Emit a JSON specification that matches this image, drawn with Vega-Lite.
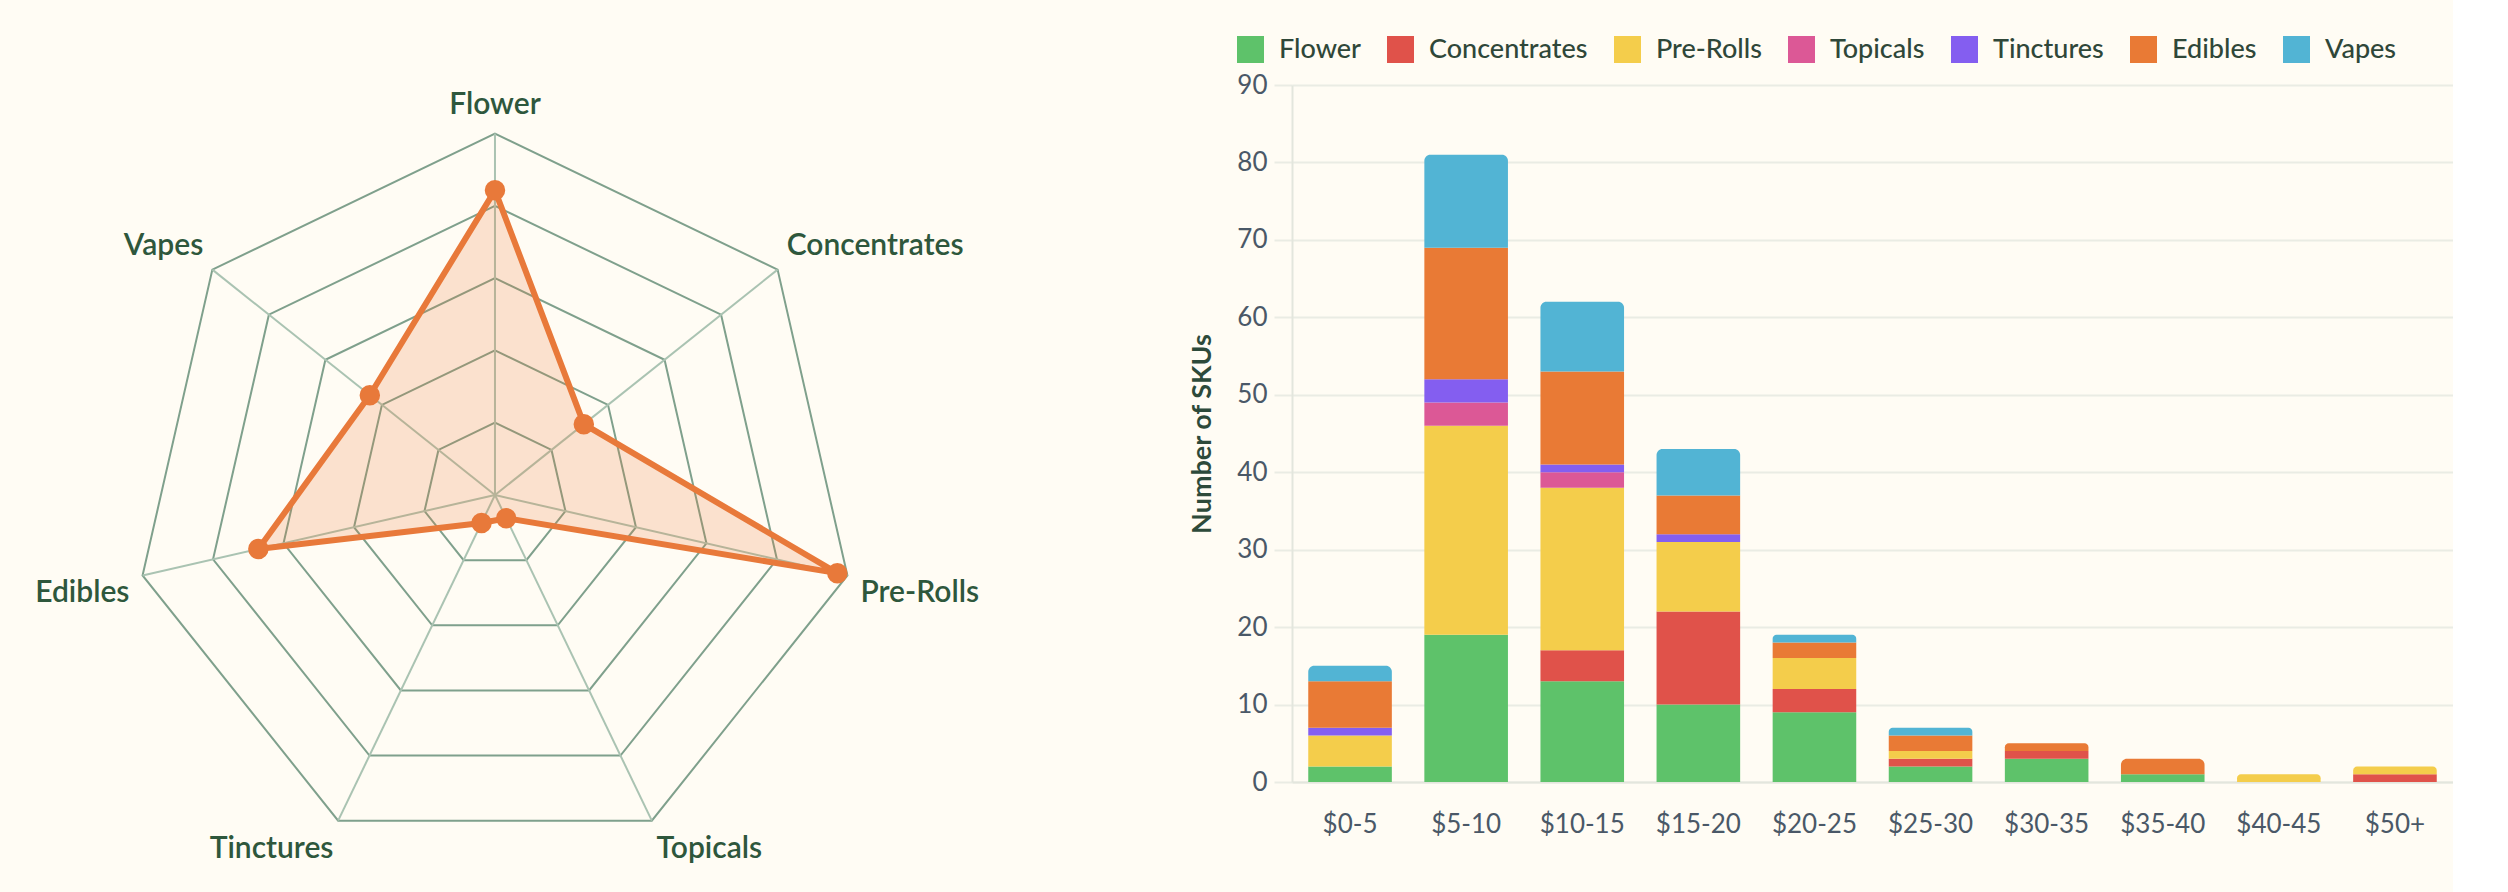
{
  "$schema": "https://vega.github.io/schema/vega-lite/v6.json",
  "background": "#fffcf4",
  "padding": 0,
  "spacing": 126,
  "config": {"view": {"stroke": null}, "font": "Lato"},
  "resolve": {"scale": {"color": "independent", "x": "independent", "y": "independent"}, "legend": {"color": "independent"}},
  "datasets": {
    "radar": [
      {"category": "Flower", "count": 59},
      {"category": "Concentrates", "count": 22},
      {"category": "Pre-Rolls", "count": 68},
      {"category": "Topicals", "count": 5},
      {"category": "Tinctures", "count": 6},
      {"category": "Edibles", "count": 47},
      {"category": "Vapes", "count": 31}
    ],
    "rings": [
      {"level": 14, "spoke": [0, 1, 2, 3, 4, 5, 6]},
      {"level": 28, "spoke": [0, 1, 2, 3, 4, 5, 6]},
      {"level": 42, "spoke": [0, 1, 2, 3, 4, 5, 6]},
      {"level": 56, "spoke": [0, 1, 2, 3, 4, 5, 6]},
      {"level": 70, "spoke": [0, 1, 2, 3, 4, 5, 6]}
    ],
    "skus": [
      {"bin": "$0-5", "category": "Flower", "count": 2},
      {"bin": "$0-5", "category": "Pre-Rolls", "count": 4},
      {"bin": "$0-5", "category": "Tinctures", "count": 1},
      {"bin": "$0-5", "category": "Edibles", "count": 6},
      {"bin": "$0-5", "category": "Vapes", "count": 2},
      {"bin": "$5-10", "category": "Flower", "count": 19},
      {"bin": "$5-10", "category": "Pre-Rolls", "count": 27},
      {"bin": "$5-10", "category": "Topicals", "count": 3},
      {"bin": "$5-10", "category": "Tinctures", "count": 3},
      {"bin": "$5-10", "category": "Edibles", "count": 17},
      {"bin": "$5-10", "category": "Vapes", "count": 12},
      {"bin": "$10-15", "category": "Flower", "count": 13},
      {"bin": "$10-15", "category": "Concentrates", "count": 4},
      {"bin": "$10-15", "category": "Pre-Rolls", "count": 21},
      {"bin": "$10-15", "category": "Topicals", "count": 2},
      {"bin": "$10-15", "category": "Tinctures", "count": 1},
      {"bin": "$10-15", "category": "Edibles", "count": 12},
      {"bin": "$10-15", "category": "Vapes", "count": 9},
      {"bin": "$15-20", "category": "Flower", "count": 10},
      {"bin": "$15-20", "category": "Concentrates", "count": 12},
      {"bin": "$15-20", "category": "Pre-Rolls", "count": 9},
      {"bin": "$15-20", "category": "Tinctures", "count": 1},
      {"bin": "$15-20", "category": "Edibles", "count": 5},
      {"bin": "$15-20", "category": "Vapes", "count": 6},
      {"bin": "$20-25", "category": "Flower", "count": 9},
      {"bin": "$20-25", "category": "Concentrates", "count": 3},
      {"bin": "$20-25", "category": "Pre-Rolls", "count": 4},
      {"bin": "$20-25", "category": "Edibles", "count": 2},
      {"bin": "$20-25", "category": "Vapes", "count": 1},
      {"bin": "$25-30", "category": "Flower", "count": 2},
      {"bin": "$25-30", "category": "Concentrates", "count": 1},
      {"bin": "$25-30", "category": "Pre-Rolls", "count": 1},
      {"bin": "$25-30", "category": "Edibles", "count": 2},
      {"bin": "$25-30", "category": "Vapes", "count": 1},
      {"bin": "$30-35", "category": "Flower", "count": 3},
      {"bin": "$30-35", "category": "Concentrates", "count": 1},
      {"bin": "$30-35", "category": "Edibles", "count": 1},
      {"bin": "$35-40", "category": "Flower", "count": 1},
      {"bin": "$35-40", "category": "Edibles", "count": 2},
      {"bin": "$40-45", "category": "Pre-Rolls", "count": 1},
      {"bin": "$50+", "category": "Concentrates", "count": 1},
      {"bin": "$50+", "category": "Pre-Rolls", "count": 1}
    ]
  },
  "hconcat": [
    {
      "width": 1062,
      "height": 807,
      "layer": [
        {
          "data": {"name": "rings"},
          "transform": [
            {"flatten": ["spoke"]},
            {"calculate": "datum.level * sin(datum.spoke * 2 * PI / 7)", "as": "gx"},
            {"calculate": "datum.level * cos(datum.spoke * 2 * PI / 7)", "as": "gy"}
          ],
          "layer": [
            {
              "mark": {"type": "line", "interpolate": "linear-closed", "stroke": "#7fa08c", "strokeWidth": 2},
              "encoding": {
                "x": {"field": "gx", "type": "quantitative", "scale": {"domain": [-95.85, 109.8], "nice": false, "zero": false}, "axis": null},
                "y": {"field": "gy", "type": "quantitative", "scale": {"domain": [-76.88, 79.4], "nice": false, "zero": false}, "axis": null},
                "detail": {"field": "level", "type": "nominal"},
                "order": {"field": "spoke", "type": "quantitative"}
              }
            },
            {
              "transform": [{"filter": "datum.level == 70"}],
              "mark": {"type": "rule", "stroke": "#aac3b2", "strokeWidth": 2},
              "encoding": {
                "x": {"field": "gx", "type": "quantitative", "scale": {"domain": [-95.85, 109.8], "nice": false, "zero": false}, "axis": null},
                "y": {"field": "gy", "type": "quantitative", "scale": {"domain": [-76.88, 79.4], "nice": false, "zero": false}, "axis": null},
                "x2": {"datum": 0},
                "y2": {"datum": 0}
              }
            }
          ]
        },
        {
          "data": {"name": "radar"},
          "transform": [
            {"window": [{"op": "row_number", "as": "idx"}]},
            {"calculate": "(datum.idx - 1) * 2 * PI / 7", "as": "angle"},
            {"calculate": "datum.count * sin(datum.angle)", "as": "px"},
            {"calculate": "datum.count * cos(datum.angle)", "as": "py"},
            {"calculate": "73 * sin(datum.angle)", "as": "lx"},
            {"calculate": "73 * cos(datum.angle)", "as": "ly"}
          ],
          "layer": [
            {
              "mark": {"type": "line", "interpolate": "linear-closed", "fill": "#e97a35", "fillOpacity": 0.2, "stroke": "#e8793a", "strokeWidth": 6, "strokeJoin": "miter"},
              "encoding": {
                "x": {"field": "px", "type": "quantitative", "scale": {"domain": [-95.85, 109.8], "nice": false, "zero": false}, "axis": null},
                "y": {"field": "py", "type": "quantitative", "scale": {"domain": [-76.88, 79.4], "nice": false, "zero": false}, "axis": null},
                "order": {"field": "idx", "type": "quantitative"}
              }
            },
            {
              "mark": {"type": "circle", "size": 420, "color": "#e8793a", "opacity": 1},
              "encoding": {
                "x": {"field": "px", "type": "quantitative", "scale": {"domain": [-95.85, 109.8], "nice": false, "zero": false}, "axis": null},
                "y": {"field": "py", "type": "quantitative", "scale": {"domain": [-76.88, 79.4], "nice": false, "zero": false}, "axis": null}
              }
            },
            {
              "transform": [{"filter": {"field": "category", "oneOf": ["Flower"]}}],
              "mark": {"type": "text", "align": "center", "baseline": "alphabetic", "dy": -4, "fontSize": 30, "fontWeight": 600, "color": "#2e573c"},
              "encoding": {
                "x": {"field": "lx", "type": "quantitative", "scale": {"domain": [-95.85, 109.8], "nice": false, "zero": false}, "axis": null},
                "y": {"field": "ly", "type": "quantitative", "scale": {"domain": [-76.88, 79.4], "nice": false, "zero": false}, "axis": null},
                "text": {"field": "category", "type": "nominal"}
              }
            },
            {
              "transform": [{"filter": {"field": "category", "oneOf": ["Concentrates"]}}],
              "mark": {"type": "text", "align": "left", "baseline": "alphabetic", "dx": -3, "dy": -5, "fontSize": 30, "fontWeight": 600, "color": "#2e573c"},
              "encoding": {
                "x": {"field": "lx", "type": "quantitative", "scale": {"domain": [-95.85, 109.8], "nice": false, "zero": false}, "axis": null},
                "y": {"field": "ly", "type": "quantitative", "scale": {"domain": [-76.88, 79.4], "nice": false, "zero": false}, "axis": null},
                "text": {"field": "category", "type": "nominal"}
              }
            },
            {
              "transform": [{"filter": {"field": "category", "oneOf": ["Vapes"]}}],
              "mark": {"type": "text", "align": "right", "baseline": "alphabetic", "dx": 3, "dy": -5, "fontSize": 30, "fontWeight": 600, "color": "#2e573c"},
              "encoding": {
                "x": {"field": "lx", "type": "quantitative", "scale": {"domain": [-95.85, 109.8], "nice": false, "zero": false}, "axis": null},
                "y": {"field": "ly", "type": "quantitative", "scale": {"domain": [-76.88, 79.4], "nice": false, "zero": false}, "axis": null},
                "text": {"field": "category", "type": "nominal"}
              }
            },
            {
              "transform": [{"filter": {"field": "category", "oneOf": ["Pre-Rolls", "Topicals"]}}],
              "mark": {"type": "text", "align": "left", "baseline": "top", "dx": -2, "dy": -1, "fontSize": 30, "fontWeight": 600, "color": "#2e573c"},
              "encoding": {
                "x": {"field": "lx", "type": "quantitative", "scale": {"domain": [-95.85, 109.8], "nice": false, "zero": false}, "axis": null},
                "y": {"field": "ly", "type": "quantitative", "scale": {"domain": [-76.88, 79.4], "nice": false, "zero": false}, "axis": null},
                "text": {"field": "category", "type": "nominal"}
              }
            },
            {
              "transform": [{"filter": {"field": "category", "oneOf": ["Tinctures", "Edibles"]}}],
              "mark": {"type": "text", "align": "right", "baseline": "top", "dx": 2, "dy": -1, "fontSize": 30, "fontWeight": 600, "color": "#2e573c"},
              "encoding": {
                "x": {"field": "lx", "type": "quantitative", "scale": {"domain": [-95.85, 109.8], "nice": false, "zero": false}, "axis": null},
                "y": {"field": "ly", "type": "quantitative", "scale": {"domain": [-76.88, 79.4], "nice": false, "zero": false}, "axis": null},
                "text": {"field": "category", "type": "nominal"}
              }
            }
          ]
        }
      ]
    },
    {
      "width": 1161,
      "height": 697,
      "data": {"name": "skus"},
      "transform": [
        {"window": [{"op": "row_number", "as": "idx"}], "groupby": ["bin"]},
        {"stack": "count", "groupby": ["bin"], "sort": [{"field": "idx", "order": "ascending"}], "as": ["y0", "y1"]},
        {"joinaggregate": [{"op": "max", "field": "y1", "as": "total"}], "groupby": ["bin"]}
      ],
      "encoding": {
        "x": {
          "field": "bin", "type": "nominal",
          "sort": ["$0-5", "$5-10", "$10-15", "$15-20", "$20-25", "$25-30", "$30-35", "$35-40", "$40-45", "$50+"],
          "scale": {"paddingInner": 0.28, "paddingOuter": 0.14},
          "axis": {"title": null, "labelAngle": 0, "labelFontSize": 26, "labelColor": "#4a5867", "ticks": false, "tickSize": 0, "labelPadding": 29, "domain": true, "domainColor": "#e3e6dd", "domainWidth": 2, "grid": false}
        },
        "y": {
          "field": "y0", "type": "quantitative",
          "scale": {"domain": [0, 90], "nice": false},
          "axis": {"title": "Number of SKUs", "values": [0, 10, 20, 30, 40, 50, 60, 70, 80, 90], "grid": true, "gridColor": "#eaece4", "gridWidth": 2, "domain": true, "domainColor": "#e3e6dd", "domainWidth": 2, "ticks": true, "tickSize": 18, "tickColor": "#eaece4", "tickWidth": 2, "labelPadding": 7, "labelFontSize": 26, "labelColor": "#4a5867", "titleFontSize": 27, "titleFontWeight": 700, "titleColor": "#2d4a3a", "titlePadding": 20}
        },
        "y2": {"field": "y1"},
        "color": {
          "field": "category", "type": "nominal",
          "scale": {
            "domain": ["Flower", "Concentrates", "Pre-Rolls", "Topicals", "Tinctures", "Edibles", "Vapes"],
            "range": ["#5ec26a", "#e0524a", "#f4cd4b", "#dc5896", "#845ef0", "#e97a35", "#52b4d4"]
          },
          "legend": {"orient": "none", "legendX": -91, "legendY": -85, "padding": 36, "direction": "horizontal", "title": null, "symbolType": "square", "symbolSize": 729, "symbolStrokeWidth": 0, "symbolOpacity": 1, "labelFontSize": 27, "labelFontWeight": 500, "labelColor": "#2f4739", "labelOffset": 15, "columnPadding": 26}
        }
      },
      "layer": [
        {"transform": [{"filter": "datum.y1 < datum.total"}], "mark": {"type": "bar"}},
        {"transform": [{"filter": "datum.y1 >= datum.total"}], "mark": {"type": "bar", "cornerRadiusTopLeft": 6, "cornerRadiusTopRight": 6}}
      ]
    }
  ]
}
